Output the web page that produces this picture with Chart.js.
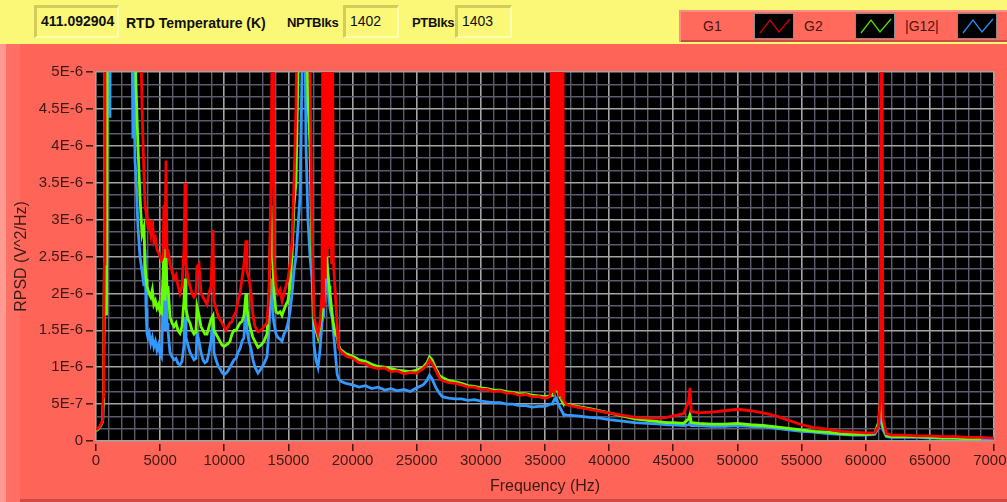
<!DOCTYPE html>
<html>
<head>
<meta charset="utf-8">
<title>RPSD</title>
<script src="https://cdn.jsdelivr.net/npm/chart.js@4.4.0/dist/chart.umd.min.js"></script>
<style>
  html, body { margin: 0; padding: 0; }
  body {
    width: 1007px; height: 502px; overflow: hidden; position: relative;
    background: #fbf777; font-family: "Liberation Sans", Arial, sans-serif;
  }
  #panel {
    position: absolute; left: 0; top: 44px; width: 1007px; height: 458px;
    background: #fe6558;
    box-shadow: inset 6px 0 0 #ff9a90, inset 20px 0 0 #ff6f63, inset 0 -3px 0 #cf4a40;
  }
  .ind {
    position: absolute; top: 5px; height: 33px; box-sizing: border-box;
    border-style: solid; border-width: 3px 2px 2px 3px;
    border-color: #d3cb5a #fffcb4 #fffcb4 #d3cb5a;
    background: #fbf777; font-size: 14px; line-height: 27px; padding-left: 4px; color: #111;
  }
  .lbl { position: absolute; top: 5px; line-height: 36px; font-weight: bold; font-size: 14px; color: #111; }
  #legend {
    position: absolute; left: 679px; top: 10px; width: 328px; height: 32px;
    background: #ff6a5c;
    box-shadow: inset 2px 2px 0 #ff8d82, inset 0 -2px 0 #c94c42;
  }
  .lg { position: absolute; top: 0; line-height: 32px; font-size: 14px; color: #4a1510; }
  .sw { position: absolute; top: 3px; width: 40px; height: 26px; box-sizing: border-box; background: #000; border: 1px solid #8a8a8a; }
  #wrap { position: absolute; left: 0; top: 0; width: 1007px; height: 502px; }
</style>
</head>
<body>
<div id="panel"></div>

<div class="ind" style="left:34px; width:85px; font-weight:bold;">411.092904</div>
<div class="lbl" style="left:126px;">RTD Temperature (K)</div>
<div class="lbl" style="left:287px; font-size:13px; letter-spacing:-0.3px;">NPTBlks</div>
<div class="ind" style="left:343px; width:56px;">1402</div>
<div class="lbl" style="left:412px; font-size:13px; letter-spacing:-0.3px;">PTBlks</div>
<div class="ind" style="left:455px; width:57px;">1403</div>

<div id="legend">
  <div class="lg" style="left:24px;">G1</div>
  <div class="sw" style="left:75px;"><svg width="38" height="24"><polyline points="5,19 15,6 24,18 35,5" fill="none" stroke="#d00000" stroke-width="1.3"/></svg></div>
  <div class="lg" style="left:125px;">G2</div>
  <div class="sw" style="left:176px;"><svg width="38" height="24"><polyline points="5,19 15,6 24,18 35,5" fill="none" stroke="#55dd00" stroke-width="1.3"/></svg></div>
  <div class="lg" style="left:226px;">|G12|</div>
  <div class="sw" style="left:278px;"><svg width="38" height="24"><polyline points="5,19 15,6 24,18 35,5" fill="none" stroke="#2a8ef0" stroke-width="1.3"/></svg></div>
</div>

<div id="wrap"><canvas id="rpsdChart" width="1007" height="502"></canvas></div>

<script>
// tick labels
const xTickLabels = ["0", "5000", "10000", "15000", "20000", "25000", "30000", "35000",
  "40000", "45000", "50000", "55000", "60000", "65000", "70000"];
const yTickLabels = ["0", "5E-7", "1E-6", "1.5E-6", "2E-6", "2.5E-6", "3E-6", "3.5E-6",
  "4E-6", "4.5E-6", "5E-6"];

const seriesNames = ["G1", "G2", "|G12|"];
const seriesColors = ["#ff0000", "#66ff00", "#3399ff"];

// frequency (Hz), values below in units of 1E-6 V^2/Hz (7 = off scale)
const freqHz = [
  0, 150, 300, 450, 520, 560, 600, 650, 700, 760, 820, 900, 980, 1050, 1090, 1150,
  1500, 2000, 2500, 2780, 2880, 2960, 3040, 3120, 3270, 3430, 3590, 3740, 3820, 3900, 3975, 4050,
  4150, 4270, 4390, 4510, 4630, 4750, 4870, 4990, 5100,
  5220, 5300, 5380, 5457, 5535, 5612, 5768, 5924, 6080, 6236, 6392,
  6548, 6704, 6860, 6938, 7015, 7171, 7327, 7483, 7639, 7795, 7873,
  8030, 8185, 8341, 8497, 8652, 8808, 8964, 9120,
  9198, 9354, 9510, 9666, 9822, 9978, 10134, 10290,
  10445, 10600, 10757, 10913, 11069, 11225, 11381, 11537,
  11693, 11770, 11926, 12082, 12238, 12394, 12628, 12862, 13096,
  13329, 13485, 13641, 13797, 13875, 14031, 14187, 14343, 14499,
  14655, 14811, 14967, 15123, 15279, 15434, 15590, 15746, 15902,
  16058, 16214, 16370, 16525, 16681, 16837, 16993, 17149, 17305, 17461, 17617,
  17700, 17760, 17820, 17880, 17940, 18000, 18060, 18120, 18180, 18240, 18300, 18360, 18420,
  18500, 18650, 18800, 18900, 19000, 19200, 19500,
  20000, 20500, 21000, 21500, 22000, 22500, 23000, 23500, 24000, 24500, 25000, 25500,
  25800, 26000, 26200, 26500, 26800, 27000, 27500, 28000,
  28500, 29000, 29500, 30000, 30500, 31000, 31500, 32000, 32500, 33000, 33500, 34000, 34500, 35000, 35400,
  35550, 35610, 35670, 35730, 35790, 35850, 35910, 35970, 36030, 36090, 36150, 36210, 36270, 36330, 36390, 36450,
  36700, 37500, 38500, 39300, 40000, 41000, 42000, 43000, 44000, 44500, 45000, 45800,
  46200, 46300, 46400, 47000, 48000, 49000, 50000, 51000, 52000, 53000, 54000,
  55000, 56000, 57000, 58000, 59000, 60000, 60700,
  61000, 61150, 61250, 61350, 61600, 62000, 63000, 64000, 65000, 66000, 67000, 68000, 69000, 70000
];

const g1 = [
  0.15, 0.17, 0.2, 0.25, 0.28, 0.6, 1.2, 2.4, 7, 7, 7, 7, 7, 7, 7, 7,
  7, 7, 7, 7, 7, 7, 7, 7, 7, 6, 4.5, 3.6, 3.2, 3.1, 3.0, 2.9,
  2.95, 2.8, 3.0, 2.7, 2.75, 2.6, 2.55, 2.5, 2.45,
  2.5, 3.2, 2.6, 3.8, 2.5, 2.6, 2.4, 2.3, 2.2, 2.25, 2.1,
  2.0, 2.1, 2.6, 3.5, 2.4, 2.2, 2.1, 2.0, 1.95, 2.0, 2.36,
  2.4, 2.0, 1.95, 1.9, 1.85, 2.0, 2.1, 2.86,
  1.9, 1.8, 1.7, 1.65, 1.6, 1.55, 1.5, 1.55,
  1.6, 1.62, 1.7, 1.75, 1.9, 2.0, 2.2, 2.4,
  2.72, 2.3, 2.2, 2.0, 1.7, 1.55, 1.48, 1.5, 1.55,
  1.6, 2.0, 3.5, 7, 2.5, 2.1, 2.0, 2.05, 1.9,
  2.0, 2.1, 2.2, 2.4, 2.7, 3.5, 4.5, 7, 7,
  7, 7, 7, 7, 5, 2.9, 1.7, 1.55, 1.45, 1.6, 2.0,
  7, 1.8, 7, 2.2, 7, 2.5, 7, 2.6, 7, 2.7, 7, 2.4, 7,
  2.45, 2.0, 1.55, 1.27, 1.23, 1.2, 1.15,
  1.12, 1.06, 1.05, 1.0, 0.98, 0.99, 0.94, 0.95, 0.91, 0.93, 0.92, 0.98,
  1.03, 1.1, 1.05, 0.95, 0.85, 0.82, 0.79, 0.78,
  0.76, 0.73, 0.73, 0.7, 0.7, 0.67, 0.68, 0.65, 0.65, 0.62, 0.63, 0.6, 0.6, 0.58, 0.6,
  7, 0.65, 7, 0.62, 7, 0.7, 7, 0.68, 7, 0.6, 7, 0.62, 7, 0.58, 7, 0.55,
  0.49, 0.46, 0.43, 0.4, 0.38, 0.35, 0.32, 0.31, 0.31, 0.32, 0.34, 0.37,
  0.55, 0.72, 0.4, 0.38, 0.39, 0.41, 0.43, 0.41, 0.38, 0.34, 0.28,
  0.22, 0.18, 0.16, 0.13, 0.12, 0.11, 0.11,
  0.2, 0.6, 7, 0.3, 0.1, 0.08, 0.08, 0.07, 0.07, 0.06, 0.06, 0.05, 0.05, 0.04
];

const g2 = [
  0.14, 0.16, 0.19, 0.24, 0.27, 0.5, 1.1, 2.3, 5.5, 3.4, 1.7, 7, 7, 7, 7, 7,
  7, 7, 7, 7, 7, 7, 5.5, 4.8, 4.0, 3.3, 2.8, 2.9, 2.4, 2.2, 2.1, 2.05,
  2.0, 1.95, 2.05, 1.85, 1.9, 1.8, 1.85, 1.75, 1.73,
  2.2, 2.6, 1.9, 2.6, 2.0, 2.1, 1.68, 1.6, 1.55, 1.6, 1.5,
  1.46, 1.55, 1.9, 2.2, 1.8, 1.65, 1.6, 1.5, 1.45, 1.48, 1.82,
  1.7, 1.55, 1.5, 1.45, 1.45, 1.55, 1.65, 1.7,
  1.5, 1.45, 1.4, 1.35, 1.3, 1.28, 1.3, 1.32,
  1.35, 1.45, 1.5, 1.5, 1.55, 1.6, 1.62, 1.7,
  2.0, 1.8, 1.6, 1.5, 1.4, 1.35, 1.27, 1.3, 1.35,
  1.45, 1.9, 3.2, 2.4, 2.0, 1.75, 1.73, 1.75, 1.7,
  1.78, 1.85, 1.9, 2.1, 2.5, 3.2, 3.5, 5, 7,
  7, 7, 6, 4.6, 4.0, 2.5, 1.6, 1.5, 1.4, 1.55, 1.7,
  1.9, 2.0, 2.2, 2.4, 2.86, 2.5, 2.3, 2.2, 2.1, 2.0, 1.9, 1.8, 1.7,
  1.6, 1.45, 1.41, 1.3, 1.25, 1.22, 1.18,
  1.15, 1.1, 1.08, 1.04, 1.01, 1.0, 0.98, 0.96, 0.95, 0.94, 0.96, 1.0,
  1.06, 1.14, 1.1, 0.98, 0.88, 0.86, 0.82, 0.8,
  0.78, 0.75, 0.74, 0.72, 0.71, 0.69, 0.69, 0.67, 0.66, 0.64, 0.64, 0.62, 0.61, 0.6, 0.61,
  0.62, 0.63, 0.65, 0.7, 0.75, 0.8, 0.72, 0.68, 0.64, 0.62, 0.6, 0.58, 0.56, 0.54, 0.52, 0.5,
  0.5, 0.47, 0.44, 0.41, 0.38, 0.34, 0.3, 0.28, 0.26, 0.25, 0.25, 0.24,
  0.3, 0.36, 0.25, 0.24, 0.23, 0.23, 0.24, 0.22, 0.21, 0.19, 0.17,
  0.15, 0.13, 0.12, 0.1, 0.09, 0.09, 0.1,
  0.25, 0.55, 0.4, 0.2, 0.08, 0.06, 0.06, 0.06, 0.05, 0.04, 0.04, 0.03, 0.03, null
];

const g12 = [
  0.14, 0.16, 0.19, 0.24, 0.27, 0.5, 1.0, 2.0, 4.0, 7, 7, 7, 7, 4.4, 4.5, 7,
  7, 7, 7, 6, 4.1, 5.2, 3.8, 3.6, 2.9, 2.5, 2.3, 2.1, 2.6, 1.8, 1.46, 1.4,
  1.46, 1.32, 1.4, 1.28, 1.35, 1.23, 1.3, 1.18, 1.14,
  1.8, 2.5, 1.5, 2.36, 1.6, 1.5, 1.2, 1.14, 1.1, 1.12, 1.05,
  1.03, 1.08, 1.3, 1.68, 1.4, 1.3, 1.2, 1.15, 1.1, 1.12, 1.46,
  1.35, 1.2, 1.1, 1.06, 1.08, 1.2, 1.35, 1.68,
  1.2, 1.1, 1.02, 0.98, 0.93, 0.9, 0.92, 0.95,
  1.0, 1.05, 1.1, 1.12, 1.2, 1.25, 1.35, 1.4,
  1.9, 1.5, 1.35, 1.25, 1.1, 1.0, 0.92, 0.98, 1.05,
  1.14, 1.5, 2.2, 1.7, 1.6, 1.45, 1.4, 1.38, 1.35,
  1.45, 1.5, 1.6, 1.75, 2.0, 2.3, 2.5, 2.9, 3.3,
  5, 7, 4.0, 3.0, 2.5, 2.2, 1.3, 1.1, 1.0, 1.23, 1.6,
  1.7, 1.8, 2.0, 2.1, 2.2, 2.36, 2.1, 2.0, 1.9, 1.8, 1.75, 1.7, 1.68,
  1.5, 1.2, 0.9, 0.85, 0.82, 0.8, 0.78,
  0.76, 0.73, 0.75, 0.71, 0.73, 0.69, 0.71, 0.68, 0.7, 0.67, 0.72, 0.76,
  0.82, 0.89, 0.84, 0.72, 0.64, 0.6, 0.58, 0.57,
  0.57, 0.55, 0.56, 0.54, 0.53, 0.52, 0.52, 0.5, 0.5, 0.48, 0.48, 0.46, 0.47, 0.47, 0.5,
  0.5, 0.52, 0.54, 0.56, 0.55, 0.58, 0.56, 0.53, 0.5, 0.48, 0.46, 0.44, 0.42, 0.4, 0.38, 0.36,
  0.35, 0.34, 0.32, 0.31, 0.29, 0.27, 0.25, 0.24, 0.23, 0.22, 0.22, 0.21,
  0.22, 0.25, 0.21, 0.21, 0.2, 0.2, 0.21, 0.2, 0.19, 0.17, 0.15,
  0.13, 0.12, 0.1, 0.09, 0.08, 0.08, 0.09,
  0.18, 0.35, 0.25, 0.15, 0.06, 0.05, 0.05, 0.05, 0.04, 0.04, 0.04, 0.03, 0.03, 0.03
];

const MAJOR = "#a4a4a4";
const MINOR = "#5b5b6a";
const TEXT = "#3a1a16";

function toPoints(vals) {
  return freqHz.map((f, i) => ({ x: f, y: vals[i] == null ? null : vals[i] * 1e-6 }));
}

// fond noir de la zone de tracé
const plotBackground = {
  id: "plotBackground",
  beforeDraw(chart) {
    const a = chart.chartArea;
    chart.ctx.save();
    chart.ctx.fillStyle = "#000";
    chart.ctx.fillRect(a.left, a.top, a.right - a.left, a.bottom - a.top);
    chart.ctx.restore();
  }
};

const ctx = document.getElementById("rpsdChart").getContext("2d");

new Chart(ctx, {
  type: "line",
  data: {
    datasets: [g1, g2, g12].map((vals, i) => ({
      label: seriesNames[i],
      data: toPoints(vals),
      borderColor: seriesColors[i],
      backgroundColor: seriesColors[i],
      borderWidth: 2.8,
      pointRadius: 0,
      tension: 0,
      fill: false,
      spanGaps: false,
      clip: 0
    }))
  },
  options: {
    responsive: false,
    devicePixelRatio: 1,
    animation: false,
    events: [],
    layout: { padding: { left: 0, right: 13, top: 72, bottom: 0 } },
    plugins: { legend: { display: false }, tooltip: { enabled: false } },
    scales: {
      x: {
        type: "linear",
        min: 0,
        max: 70000,
        afterBuildTicks: (s) => {
          const t = [];
          for (let v = 0; v <= 70000; v += 1000) t.push({ value: v });
          s.ticks = t;
        },
        afterFit: (s) => { s.height = 61; s.paddingLeft = 0; s.paddingRight = 0; },
        border: { display: false },
        grid: {
          color: (c) => (c.index % 5 === 0 ? MAJOR : MINOR),
          lineWidth: (c) => (c.index % 5 === 0 ? 1.6 : 1.4),
          tickColor: (c) => (c.index % 5 === 0 ? TEXT : "rgba(0,0,0,0)"),
          tickWidth: 1.5,
          tickLength: 10,
          tickBorderDash: [0, 3, 7, 100]
        },
        ticks: {
          autoSkip: false,
          maxRotation: 0,
          padding: 1,
          color: TEXT,
          font: { family: "Liberation Sans", size: 15 },
          callback: (v, i) => (i % 5 === 0 ? xTickLabels[i / 5] : "")
        },
        title: {
          display: true,
          text: "Frequency (Hz)",
          color: TEXT,
          font: { family: "Liberation Sans", size: 16 },
          padding: { top: 0, bottom: 6 }
        }
      },
      y: {
        min: 0,
        max: 5e-6,
        afterBuildTicks: (s) => {
          const t = [];
          for (let i = 0; i <= 30; i++) t.push({ value: (i * 5e-6) / 30 });
          s.ticks = t;
        },
        afterFit: (s) => { s.width = 96; s.paddingTop = 0; s.paddingBottom = 0; },
        border: { display: false },
        grid: {
          color: (c) => (c.index % 3 === 0 ? MAJOR : MINOR),
          lineWidth: (c) => (c.index % 3 === 0 ? 1.6 : 1.4),
          tickColor: (c) => (c.index % 3 === 0 ? TEXT : "rgba(0,0,0,0)"),
          tickWidth: 1.5,
          tickLength: 10,
          tickBorderDash: [7, 100]
        },
        ticks: {
          autoSkip: false,
          padding: 3,
          color: TEXT,
          font: { family: "Liberation Sans", size: 15 },
          callback: (v, i) => (i % 3 === 0 ? yTickLabels[i / 3] : "")
        },
        title: {
          display: true,
          text: "RPSD (V^2/Hz)",
          color: TEXT,
          font: { family: "Liberation Sans", size: 16 },
          padding: { top: 12, bottom: 0 }
        }
      }
    }
  },
  plugins: [plotBackground]
});
</script>
</body>
</html>
